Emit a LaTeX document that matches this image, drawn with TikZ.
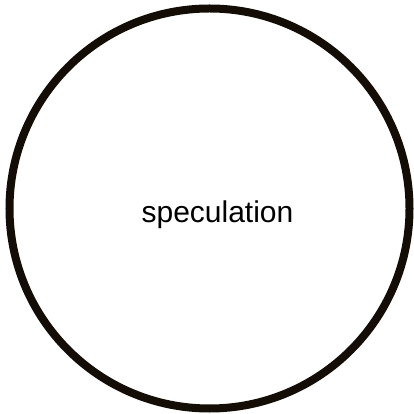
\documentclass[tikz,border=0pt]{standalone}
\usepackage{fontspec}
\setmainfont{Liberation Sans}
\begin{document}
\begin{tikzpicture}[x=1pt,y=1pt,
  ring/.style={draw=black!90!brown, line width=8pt},
  label/.style={font=\fontsize{30}{36}\selectfont, anchor=base, inner sep=0pt}]
\useasboundingbox (0,0) rectangle (413,414);
\node[ring, circle, minimum size=400pt, inner sep=0pt] (c) at (209.5,205.5) {};
\node[label] (t) at (217.5,191) {speculation};
\end{tikzpicture}
\end{document}
